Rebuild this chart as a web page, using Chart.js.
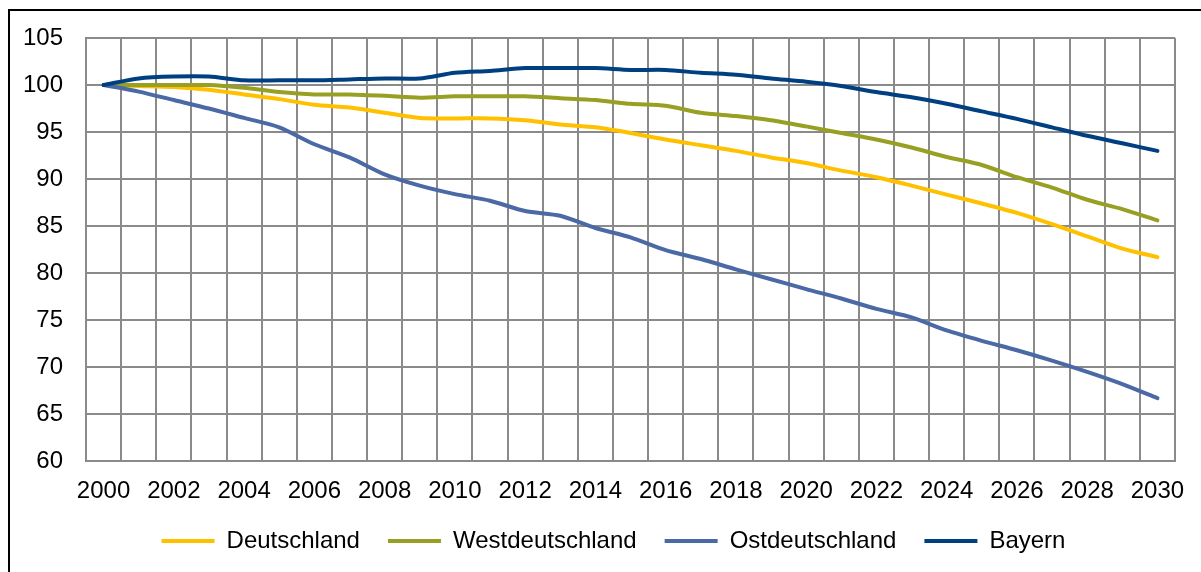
<!DOCTYPE html>
<html>
<head>
<meta charset="utf-8">
<script src="https://cdn.jsdelivr.net/npm/chart.js@4/dist/chart.umd.min.js"></script>
<style>
  html, body { margin: 0; padding: 0; background: #fff; }
  #wrap { position: relative; width: 1201px; height: 572px; overflow: hidden; }
  #frame { position: absolute; left: 8px; top: 9px; width: 1300px; height: 700px;
           border-left: 2px solid #000; border-top: 2px solid #000; }
  canvas { position: absolute; left: 0; top: 0; }
</style>
</head>
<body>
<div id="wrap">
  <div id="frame"></div>
  <canvas id="chart" width="1201" height="572"></canvas>
</div>
<script>
const years = ['2000', '2001', '2002', '2003', '2004', '2005', '2006', '2007', '2008', '2009',
  '2010', '2011', '2012', '2013', '2014', '2015', '2016', '2017', '2018', '2019',
  '2020', '2021', '2022', '2023', '2024', '2025', '2026', '2027', '2028', '2029', '2030'];

const deutschland = [100, 99.9, 99.8, 99.5, 99.0, 98.5, 97.9, 97.6, 97.05, 96.5, 96.45,
  96.45, 96.25, 95.8, 95.5, 94.9, 94.2, 93.6, 93.0, 92.3, 91.7, 90.9,
  90.2, 89.3, 88.35, 87.4, 86.4, 85.2, 83.9, 82.6, 81.7];

const westdeutschland = [100, 100, 100, 100, 99.7, 99.25, 99.0, 99.0, 98.85, 98.65, 98.8,
  98.8, 98.8, 98.6, 98.4, 98.0, 97.8, 97.05, 96.7, 96.25, 95.6, 94.9,
  94.2, 93.35, 92.35, 91.5, 90.2, 89.1, 87.8, 86.8, 85.6];

const ostdeutschland = [100, 99.3, 98.4, 97.5, 96.5, 95.5, 93.7, 92.3, 90.5, 89.3, 88.4,
  87.7, 86.6, 86.1, 84.8, 83.8, 82.45, 81.5, 80.4, 79.35, 78.3, 77.3,
  76.2, 75.3, 73.9, 72.8, 71.8, 70.7, 69.5, 68.2, 66.7];

const bayern = [100, 100.7, 100.9, 100.9, 100.5, 100.5, 100.5, 100.6, 100.7, 100.7, 101.3,
  101.5, 101.8, 101.8, 101.8, 101.6, 101.6, 101.3, 101.1, 100.7, 100.35, 99.9,
  99.25, 98.7, 98.0, 97.2, 96.4, 95.5, 94.6, 93.8, 93.0];

const seriesNames = ['Deutschland', 'Westdeutschland', 'Ostdeutschland', 'Bayern'];
const colors = ['#FFC000', '#98A023', '#4A69A5', '#003F80'];
const drawOrder = [3, 2, 1, 0]; // Bayern on top

const gridColor = '#8a8a8a';
const fontFamily = '"Liberation Sans", Arial, sans-serif';

Chart.defaults.font.family = fontFamily;
Chart.defaults.color = '#000';

const allSeries = [deutschland, westdeutschland, ostdeutschland, bayern];

// legend is centred under the plot a bit to the right in the original
const legendShift = {
  id: 'legendShift',
  afterLayout(chart) {
    const lg = chart.legend;
    if (!lg) return;
    lg.left += 26; lg.right += 26;
    lg.top -= 21; lg.bottom -= 21;
  }
};

new Chart(document.getElementById('chart'), {
  type: 'line',
  data: {
    labels: years,
    datasets: allSeries.map((values, i) => ({
      label: seriesNames[i],
      data: values,
      borderColor: colors[i],
      backgroundColor: colors[i],
      borderWidth: 4,
      pointRadius: 0,
      tension: 0.25,
      borderCapStyle: 'round',
      order: drawOrder[i]
    }))
  },
  plugins: [legendShift],
  options: {
    responsive: false,
    animation: false,
    layout: {
      padding: { left: 0, right: 26, top: 38, bottom: -12 }
    },
    plugins: {
      tooltip: { enabled: false },
      legend: {
        position: 'bottom',
        labels: {
          boxWidth: 53,
          boxHeight: 4,
          padding: 28,
          font: { size: 24 },
          color: '#000',
          sort: (a, b) => a.datasetIndex - b.datasetIndex,
          generateLabels: chart =>
            Chart.defaults.plugins.legend.labels.generateLabels(chart).map(l => ({
              ...l, lineWidth: 0, fillStyle: l.strokeStyle
            }))
        }
      }
    },
    scales: {
      x: {
        offset: true,
        grid: { offset: true, color: gridColor, lineWidth: 2, drawTicks: false },
        border: { color: gridColor, width: 2 },
        ticks: {
          autoSkip: false,
          maxRotation: 0,
          padding: 16,
          font: { size: 24 },
          color: '#000',
          callback: function (val, idx) {
            return idx % 2 === 0 ? this.getLabelForValue(val) : '';
          }
        }
      },
      y: {
        min: 60,
        max: 105,
        afterFit: scale => { scale.width = 86; },
        grid: { color: gridColor, lineWidth: 2, drawTicks: false },
        border: { color: gridColor, width: 2 },
        ticks: {
          stepSize: 5,
          padding: 23,
          font: { size: 24 },
          color: '#000'
        }
      }
    }
  }
});
</script>
</body>
</html>
